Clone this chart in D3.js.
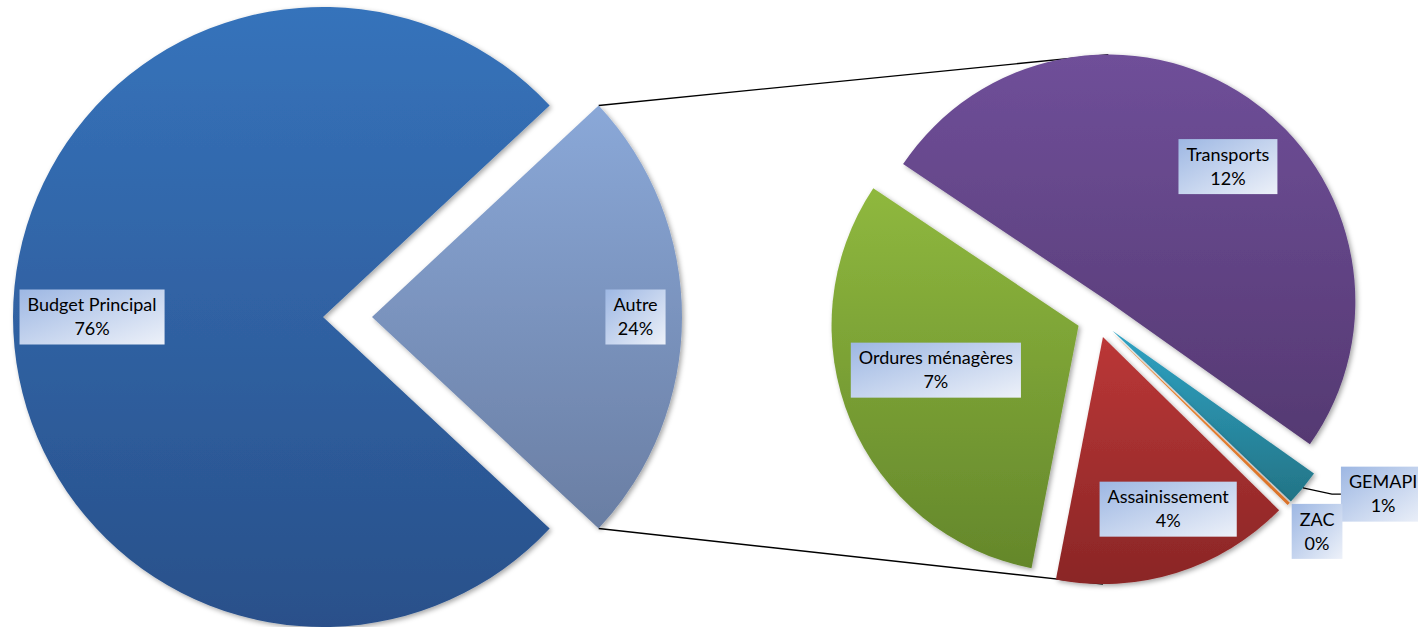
<!DOCTYPE html>
<html>
<head>
<meta charset="utf-8">
<script src="https://cdn.jsdelivr.net/npm/d3@7"></script>
<style>
  body { margin: 0; background: #fff; }
  svg text { font-family: Lato, "Open Sans", sans-serif; font-size: 18px; fill: #000; }
</style>
</head>
<body>
<script>
// data (percent of total)
var mainLabels = ["Budget Principal", "Autre"];
var mainValues = [76.1, 23.9];
// breakdown of "Autre", in drawing order (clockwise)
var subLabels = ["Transports", "GEMAPI", "ZAC", "Assainissement", "Ordures ménagères"];
var subValues = [12.05, 0.56, 0.05, 3.75, 7.49];

// colours: [top, bottom] of each slice gradient
var mainColors = [["#3673bb", "#29508a"], ["#8aa8d8", "#6a7ea3"]];
var subColors = [["#6f4f99", "#553972"], ["#2fa3c4", "#237486"], ["#ee8a32", "#d9722a"],
                 ["#bb3737", "#8a2626"], ["#8fb83e", "#64872b"]];

var width = 1418, height = 627;
var deg = Math.PI / 180;

// geometry of both pies
var pie1 = { cx: 323, cy: 317, r: 310, explode: [0, 49] };
var pie2 = { cx: 1097, cy: 318, r: 247, explode: 20, start: -56.2 * deg };

// label layout: radius as fraction of r, angle nudge in degrees
var mainLabelPos = [[0.745, 0], [0.85, 0]];
var subLabelPos = [[0.73, 7], [1.28, -8.4], [1.16, 0], [0.745, -3.5], [0.605, 5.3]];

var fmt = d3.format(".0%");

var svg = d3.select("body").append("svg")
    .attr("width", width)
    .attr("height", height);
var defs = svg.append("defs");

// soft drop shadow like excel
var f = defs.append("filter").attr("id", "shadow")
    .attr("x", "-10%").attr("y", "-10%").attr("width", "120%").attr("height", "120%");
f.append("feDropShadow").attr("dx", 2).attr("dy", 2).attr("stdDeviation", 2.5)
    .attr("flood-color", "#000").attr("flood-opacity", 0.35);

function addGradient(id, c) {
    var g = defs.append("linearGradient").attr("id", id)
        .attr("x1", 0).attr("y1", 0).attr("x2", 0).attr("y2", 1);
    g.append("stop").attr("offset", "0%").attr("stop-color", c[0]);
    g.append("stop").attr("offset", "100%").attr("stop-color", c[1]);
}
mainColors.forEach(function (c, i) { addGradient("m" + i, c); });
subColors.forEach(function (c, i) { addGradient("s" + i, c); });

var lg = defs.append("linearGradient").attr("id", "lbl")
    .attr("x1", 0).attr("y1", 0).attr("x2", 1).attr("y2", 1);
lg.append("stop").attr("offset", "0%").attr("stop-color", "#9db7e3");
lg.append("stop").attr("offset", "100%").attr("stop-color", "#edf1f9");

function polar(a, r) { return [Math.sin(a) * r, -Math.cos(a) * r]; }
function mid(d) { return (d.startAngle + d.endAngle) / 2; }

// first pie: "Autre" centred on the right side
var autreShare = mainValues[1] / d3.sum(mainValues);
var a0 = Math.PI / 2 - autreShare * Math.PI;
var mainArcs = d3.pie().sort(null).value(function (d) { return d.v; })
    .startAngle(a0).endAngle(a0 + 2 * Math.PI)
    ([{ i: 1, v: mainValues[1] }, { i: 0, v: mainValues[0] }]);
mainArcs.forEach(function (d) {
    var o = polar(mid(d), pie1.explode[d.data.i]);
    d.cx = pie1.cx + o[0];
    d.cy = pie1.cy + o[1];
});

// second pie
var subArcs = d3.pie().sort(null)
    .startAngle(pie2.start).endAngle(pie2.start + 2 * Math.PI)(subValues);
subArcs.forEach(function (d, i) {
    var o = polar(mid(d), pie2.explode);
    d.i = i;
    d.cx = pie2.cx + o[0];
    d.cy = pie2.cy + o[1];
});

var arc1 = d3.arc().innerRadius(0).outerRadius(pie1.r);
var arc2 = d3.arc().innerRadius(0).outerRadius(pie2.r);

// connector lines (drawn first, pies cover their ends)
var autre = mainArcs[0];
function sliceAt(a) {
    return subArcs.find(function (d) {
        var s = d.startAngle, e = d.endAngle;
        var t = a; while (t < s) t += 2 * Math.PI;
        return t <= e;
    });
}
var topSl = sliceAt(0), botSl = sliceAt(Math.PI);
var pTop = polar(autre.startAngle, pie1.r), pBot = polar(autre.endAngle, pie1.r);
svg.append("g").attr("stroke", "#000").attr("stroke-width", 1.3)
    .selectAll("line")
    .data([[autre.cx + pTop[0], autre.cy + pTop[1], topSl.cx, topSl.cy - pie2.r],
           [autre.cx + pBot[0], autre.cy + pBot[1], botSl.cx, botSl.cy + pie2.r]])
    .enter().append("line")
    .attr("x1", function (d) { return d[0]; })
    .attr("y1", function (d) { return d[1]; })
    .attr("x2", function (d) { return d[2]; })
    .attr("y2", function (d) { return d[3]; });

// slices
svg.append("g").selectAll("path")
    .data(mainArcs).enter().append("path")
    .attr("transform", function (d) { return "translate(" + d.cx + "," + d.cy + ")"; })
    .attr("d", arc1)
    .attr("fill", function (d) { return "url(#m" + d.data.i + ")"; })
    .attr("filter", "url(#shadow)");

svg.append("g").selectAll("path")
    .data(subArcs).enter().append("path")
    .attr("transform", function (d) { return "translate(" + d.cx + "," + d.cy + ")"; })
    .attr("d", arc2)
    .attr("fill", function (d) { return "url(#s" + d.i + ")"; })
    .attr("filter", "url(#shadow)");

// labels
function labelPos(d, r, lp) {
    var p = polar(mid(d) + lp[1] * deg, r * lp[0]);
    return [d.cx + p[0], d.cy + p[1]];
}

var labels = [];
mainArcs.forEach(function (d) {
    var i = d.data.i;
    labels.push({ name: mainLabels[i], v: mainValues[i], p: labelPos(d, pie1.r, mainLabelPos[i]) });
});
subArcs.forEach(function (d) {
    var l = { name: subLabels[d.i], v: subValues[d.i], p: labelPos(d, pie2.r, subLabelPos[d.i]) };
    labels.push(l);
    if (subLabels[d.i] == "GEMAPI") l.leader = polar(mid(d), pie2.r).map(function (v, k) { return v + (k ? d.cy : d.cx); });
});

var lblG = svg.append("g");
labels.forEach(function (l) {
    var g = lblG.append("g").attr("transform", "translate(" + l.p[0] + "," + l.p[1] + ")");
    var rect = g.append("rect");
    var t1 = g.append("text").attr("text-anchor", "middle").attr("y", -5.7).text(l.name);
    var t2 = g.append("text").attr("text-anchor", "middle").attr("y", 18.3).text(fmt(l.v / 100));
    var w = Math.max(t1.node().getComputedTextLength(), t2.node().getComputedTextLength()) + 16;
    rect.attr("x", -w / 2).attr("y", -27.5).attr("width", w).attr("height", 55)
        .attr("fill", "url(#lbl)");
    if (l.leader) {
        var ex = l.p[0] - w / 2, ey = l.p[1];
        lblG.insert("polyline", ":first-child")
            .attr("points", [l.leader, [ex - 9, ey], [ex, ey]].join(" "))
            .attr("fill", "none").attr("stroke", "#000").attr("stroke-width", 1.2);
    }
});
</script>
</body>
</html>
